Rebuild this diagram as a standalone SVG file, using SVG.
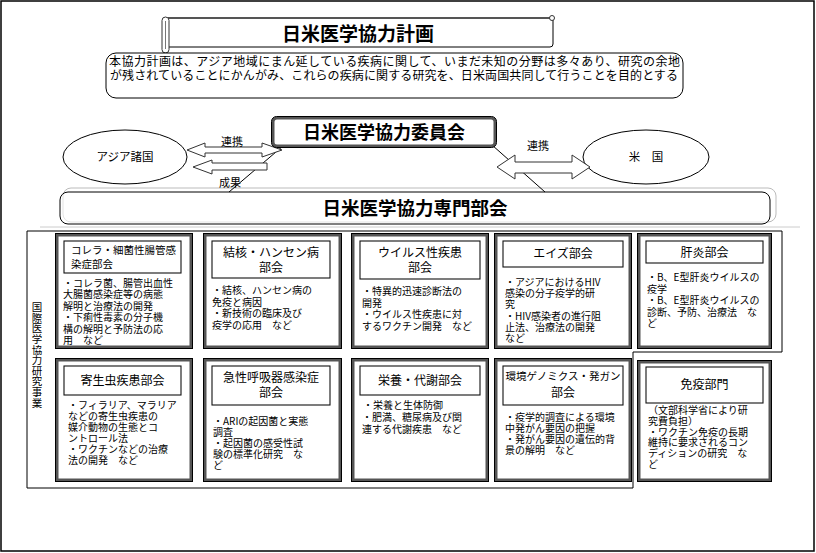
<svg xmlns="http://www.w3.org/2000/svg" width="816" height="553" viewBox="0 0 816 553">
<style>
text{font-family:"Noto Sans CJK JP","Noto Sans CJK SC",sans-serif;fill:#000}
.t{font-weight:700}
.h{font-size:12px}
.hs{font-size:10.5px}
.b{font-size:10px}
.c{text-anchor:middle}
.v{writing-mode:vertical-rl;font-size:10.5px;letter-spacing:0.1px}
.po{fill:#fff;stroke:#555;stroke-width:3}
.pe{fill:none;stroke:#000;stroke-width:1}
.ph{fill:#fff;stroke:#111;stroke-width:1.1}
.ln{fill:none;stroke:#000;stroke-width:1}
.ar{fill:#fff;stroke:#333;stroke-width:1}
</style>
<rect x="1" y="1" width="813" height="550" fill="#fff" stroke="#000" stroke-width="1.5"/>

<g id="title">
<rect x="168" y="19" width="385" height="28" fill="#fff" stroke="none"/>
<path d="M168,18 H550" fill="none" stroke="#555" stroke-width="2"/>
<path d="M553,20 V44 Q553,47 550,47 H168" class="ln"/>
<circle cx="552" cy="18" r="2.5" fill="#fff" stroke="#333" stroke-width="1"/>
<rect x="162" y="17" width="7" height="36" rx="3.5" fill="#fff" stroke="#333" stroke-width="1"/>
<line x1="165.5" y1="21" x2="165.5" y2="49" stroke="#777" stroke-width="1"/>
<text class="t c" x="358" y="41" font-size="19">日米医学協力計画</text>
</g>

<g id="purpose">
<rect x="106" y="53" width="577" height="45" rx="10" fill="#fff" stroke="#000" stroke-width="1"/>
<text x="109" y="66" font-size="12" textLength="571" lengthAdjust="spacing">本協力計画は、アジア地域にまん延している疾病に関して、いまだ未知の分野は多々あり、研究の余地</text>
<text x="110" y="80" font-size="12" textLength="568" lengthAdjust="spacing">が残されていることにかんがみ、これらの疾病に関する研究を、日米両国共同して行うことを目的とする</text>
</g>

<g id="asia">
<ellipse cx="125" cy="157" rx="62" ry="27" fill="#fff" stroke="#000" stroke-width="1"/>
<text class="c" x="125" y="161" font-size="11.5">アジア諸国</text>
</g>

<g id="usa">
<ellipse cx="646" cy="157" rx="63" ry="27" fill="#fff" stroke="#000" stroke-width="1"/>
<text class="c" x="646" y="161" font-size="11.5">米　国</text>
</g>

<g id="senmon">
<rect x="63" y="188" width="713" height="34" rx="8" fill="none" stroke="#bbb" stroke-width="1"/>
<rect x="60" y="192" width="710" height="32" rx="8" fill="#fff" fill-opacity="0.6" stroke="#000" stroke-width="1"/>
<text class="t c" x="415" y="215" font-size="18.5">日米医学協力専門部会</text>
</g>
<line x1="40" y1="227" x2="800" y2="227" stroke="#ccc" stroke-width="1"/>

<g id="connectors">
<line class="ln" x1="283" y1="146" x2="229" y2="192"/>
<line class="ln" x1="492" y1="145" x2="545" y2="192"/>
<polygon class="ar" points="187,150 205,143 205,147 262,147 262,143 282,150 262,157 262,153 205,153 205,157"/>
<polygon class="ar" points="193,167 212,160 212,163 267,163 267,170 212,170 212,174"/>
<polygon class="ar" points="497,167 515,155 515,162 572,162 572,155 590,167 572,179 572,173 515,173 515,179"/>
<text class="c" x="232" y="146" font-size="11">連携</text>
<text class="c" x="230" y="187" font-size="11">成果</text>
<text class="c" x="538" y="150" font-size="11">連携</text>
</g>

<g id="iinkai">
<rect x="273" y="118" width="222" height="28" rx="4" class="po"/>
<rect x="271.5" y="116.5" width="225" height="31" rx="5" class="pe"/>
<text class="t c" x="384" y="139" font-size="18">日米医学協力委員会</text>
</g>

<g id="kokusai">
<polygon class="ln" points="27,231 782,231 782,352 633,352 633,488 27,488"/>
<text class="v" x="37" y="302">国際医学協力研究事業</text>
</g>

<g id="p1">
<rect class="po" x="57" y="235" width="134" height="112"/><rect class="pe" x="55.5" y="233.5" width="137" height="115"/>
<rect class="ph" x="64" y="241" width="117" height="32"/>
<text class="hs" x="71" y="254">コレラ・細菌性腸管感</text>
<text class="hs" x="71" y="268">染症部会</text>
<text class="b"><tspan x="63" y="287">・コレラ菌、腸管出血性</tspan><tspan x="63" y="298.4">大腸菌感染症等の病態</tspan><tspan x="63" y="309.8">解明と治療法の開発</tspan><tspan x="63" y="321.2">・下痢性毒素の分子機</tspan><tspan x="63" y="332.6">構の解明と予防法の応</tspan><tspan x="63" y="344">用　など</tspan></text>
</g>

<g id="p2">
<rect class="po" x="205" y="235" width="135" height="112"/><rect class="pe" x="203.5" y="233.5" width="138" height="115"/>
<rect class="ph" x="212" y="241" width="118" height="37"/>
<text class="h c" x="271" y="257">結核・ハンセン病</text>
<text class="h c" x="271" y="272">部会</text>
<text class="b"><tspan x="212" y="294">・結核、ハンセン病の</tspan><tspan x="212" y="305.5">免疫と病因</tspan><tspan x="212" y="317">・新技術の臨床及び</tspan><tspan x="212" y="328.5">疫学の応用　など</tspan></text>
</g>

<g id="p3">
<rect class="po" x="353" y="235" width="134" height="112"/><rect class="pe" x="351.5" y="233.5" width="137" height="115"/>
<rect class="ph" x="360" y="241" width="120" height="38"/>
<text class="h c" x="420" y="257">ウイルス性疾患</text>
<text class="h c" x="420" y="272">部会</text>
<text class="b"><tspan x="362" y="295">・特異的迅速診断法の</tspan><tspan x="362" y="306.5">開発</tspan><tspan x="362" y="318">・ウイルス性疾患に対</tspan><tspan x="362" y="329.5">するワクチン開発　など</tspan></text>
</g>

<g id="p4">
<rect class="po" x="496" y="235" width="134" height="112"/><rect class="pe" x="494.5" y="233.5" width="137" height="115"/>
<rect class="ph" x="503" y="241" width="120" height="26"/>
<text class="h c" x="563" y="258">エイズ部会</text>
<text class="b"><tspan x="505" y="286">・アジアにおけるHIV</tspan><tspan x="505" y="297.2">感染の分子疫学的研</tspan><tspan x="505" y="308.4">究</tspan><tspan x="505" y="319.6">・HIV感染者の進行阻</tspan><tspan x="505" y="330.8">止法、治療法の開発</tspan><tspan x="505" y="342">など</tspan></text>
</g>

<g id="p5">
<rect class="po" x="639" y="235" width="131" height="112"/><rect class="pe" x="637.5" y="233.5" width="134" height="115"/>
<rect class="ph" x="646" y="241" width="117" height="22"/>
<text class="h c" x="704.5" y="257">肝炎部会</text>
<text class="b"><tspan x="647" y="281">・B、E型肝炎ウイルスの</tspan><tspan x="647" y="292.5">疫学</tspan><tspan x="647" y="304">・B、E型肝炎ウイルスの</tspan><tspan x="647" y="315.5">診断、予防、治療法　な</tspan><tspan x="647" y="327">ど</tspan></text>
</g>

<g id="p6">
<rect class="po" x="57" y="360" width="134" height="120"/><rect class="pe" x="55.5" y="358.5" width="137" height="123"/>
<rect class="ph" x="64" y="366" width="117" height="29"/>
<text class="h c" x="122.5" y="385">寄生虫疾患部会</text>
<text class="b"><tspan x="68" y="409">・フィラリア、マラリア</tspan><tspan x="68" y="420">などの寄生虫疾患の</tspan><tspan x="68" y="431">媒介動物の生態とコ</tspan><tspan x="68" y="442">ントロール法</tspan><tspan x="68" y="453">・ワクチンなどの治療</tspan><tspan x="68" y="464">法の開発　など</tspan></text>
</g>

<g id="p7">
<rect class="po" x="205" y="360" width="135" height="120"/><rect class="pe" x="203.5" y="358.5" width="138" height="123"/>
<rect class="ph" x="212" y="366" width="118" height="39"/>
<text class="h c" x="271" y="382">急性呼吸器感染症</text>
<text class="h c" x="271" y="397">部会</text>
<text class="b"><tspan x="213" y="425">・ARIの起因菌と実態</tspan><tspan x="213" y="436">調査</tspan><tspan x="213" y="447">・起因菌の感受性試</tspan><tspan x="213" y="458">験の標準化研究　な</tspan><tspan x="213" y="469">ど</tspan></text>
</g>

<g id="p8">
<rect class="po" x="353" y="360" width="134" height="120"/><rect class="pe" x="351.5" y="358.5" width="137" height="123"/>
<rect class="ph" x="360" y="366" width="120" height="29"/>
<text class="h c" x="420" y="385">栄養・代謝部会</text>
<text class="b"><tspan x="363" y="409">・栄養と生体防御</tspan><tspan x="362" y="421">・肥満、糖尿病及び関</tspan><tspan x="362" y="432.5">連する代謝疾患　など</tspan></text>
</g>

<g id="p9">
<rect class="po" x="496" y="360" width="134" height="120"/><rect class="pe" x="494.5" y="358.5" width="137" height="123"/>
<rect class="ph" x="503" y="366" width="120" height="39"/>
<text class="hs c" x="563" y="380">環境ゲノミクス・発ガン</text>
<text class="h c" x="563" y="397">部会</text>
<text class="b"><tspan x="505" y="421">・疫学的調査による環境</tspan><tspan x="505" y="432">中発がん要因の把握</tspan><tspan x="505" y="443">・発がん要因の遺伝的背</tspan><tspan x="505" y="454">景の解明　など</tspan></text>
</g>

<g id="p10">
<rect class="po" x="639" y="362" width="131" height="118"/><rect class="pe" x="637.5" y="360.5" width="134" height="121"/>
<rect class="ph" x="646" y="367" width="117" height="36"/>
<text class="h c" x="704.5" y="389">免疫部門</text>
<text class="b"><tspan x="648" y="414">（文部科学省により研</tspan><tspan x="648" y="424.8">究費負担）</tspan><tspan x="648" y="435.6">・ワクチン免疫の長期</tspan><tspan x="648" y="446.4">維持に要求されるコン</tspan><tspan x="648" y="457.2">ディションの研究　な</tspan><tspan x="648" y="468">ど</tspan></text>
</g>
</svg>
